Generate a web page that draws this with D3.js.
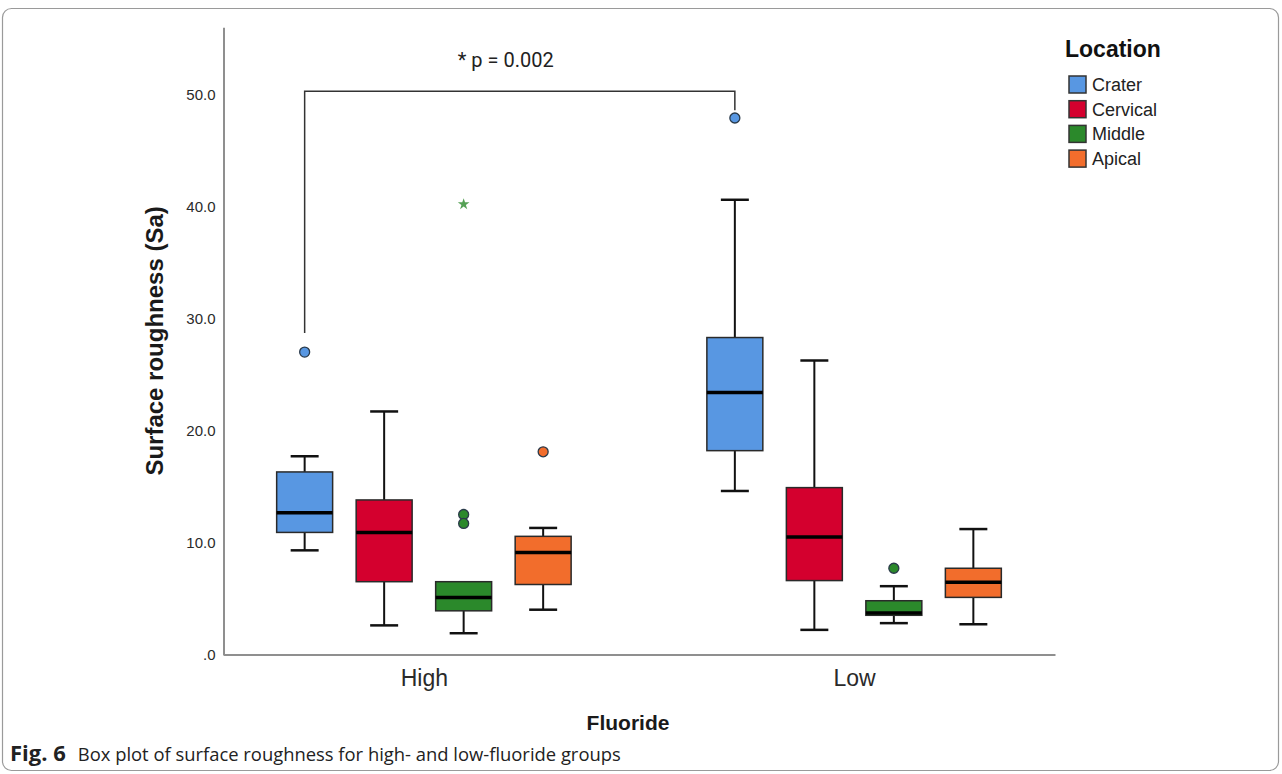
<!DOCTYPE html>
<html>
<head>
<meta charset="utf-8">
<script src="https://cdn.jsdelivr.net/npm/d3@7/dist/d3.min.js"></script>
<style>
    body { margin: 0; background: #fff; }
    text { font-family: "Liberation Sans", Arial, sans-serif; }
</style>
</head>
<body>
<script>
//fluoride groups and sample locations
var groups = ["High", "Low"];
var locations = ["Crater", "Cervical", "Middle", "Apical"];

//box statistics, one row per group, one value per location
var whiskerLow  = [[9.3, 2.6, 1.9, 4.0], [14.6, 2.2, 2.8, 2.7]];
var q1          = [[10.9, 6.5, 3.9, 6.25], [18.2, 6.6, 3.5, 5.1]];
var median      = [[12.65, 10.9, 5.1, 9.1], [23.4, 10.5, 3.7, 6.45]];
var q3          = [[16.3, 13.8, 6.5, 10.55], [28.3, 14.9, 4.8, 7.7]];
var whiskerHigh = [[17.7, 21.7, 6.5, 11.3], [40.6, 26.25, 6.1, 11.2]];

//outliers (circles) and extremes (stars)
var outliers = [
    {group: "High", location: "Crater", value: 27.0},
    {group: "High", location: "Middle", value: 12.5},
    {group: "High", location: "Middle", value: 11.7},
    {group: "High", location: "Apical", value: 18.1},
    {group: "Low", location: "Crater", value: 47.9},
    {group: "Low", location: "Middle", value: 7.7}
];
var extremes = [
    {group: "High", location: "Middle", value: 40.2}
];

//y axis ticks
var yTicks = [0, 10, 20, 30, 40, 50];

//significance bracket between High/Crater and Low/Crater
var bracket = {top: 50.3, leftEnd: 28.7, rightEnd: 48.6, label: "* p = 0.002"};

window.onload = function(){

    var w = 1282, h = 774;
    var svg = d3.select("body")
        .append("svg")
        .attr("width", w)
        .attr("height", h);

    //rounded figure frame
    svg.append("rect")
        .attr("x", 2.5)
        .attr("y", 8.5)
        .attr("width", 1276)
        .attr("height", 762)
        .attr("rx", 9)
        .style("fill", "none")
        .style("stroke", "#9a9a9a")
        .style("stroke-width", 1.2);

    var color = d3.scaleOrdinal()
        .domain(locations)
        .range(["#5897e2", "#d4002e", "#2b892b", "#f26d2c"]);

    //scales
    var y = d3.scaleLinear()
        .domain([0, 56])
        .range([654.5, 27.3]);

    var x = d3.scalePoint()
        .domain(groups)
        .range([223, 1055])
        .padding(0.467);

    var inner = d3.scaleBand()
        .domain(locations)
        .range([-159, 159])
        .paddingInner(0.296)
        .paddingOuter(0.148);

    var bw = inner.bandwidth();

    //axes
    var yAxis = d3.axisLeft(y)
        .tickValues(yTicks)
        .tickSize(0)
        .tickSizeOuter(0)
        .tickPadding(8)
        .tickFormat(function(d){ return d === 0 ? ".0" : d3.format(".1f")(d); });

    var yg = svg.append("g")
        .attr("class", "axis")
        .attr("transform", "translate(223.5,0)")
        .call(yAxis);
    yg.selectAll("text")
        .style("font-size", "15px")
        .style("fill", "#2a2a2a");

    var xAxis = d3.axisBottom(x)
        .tickSize(0)
        .tickSizeOuter(0)
        .tickPadding(15);

    var xg = svg.append("g")
        .attr("class", "axis")
        .attr("transform", "translate(0,654.5)")
        .call(xAxis);
    xg.selectAll("text")
        .style("font-size", "23px")
        .style("fill", "#2a2a2a");

    svg.selectAll(".axis path.domain")
        .style("stroke", "#8f8f8f")
        .style("stroke-width", 2);

    //axis titles
    svg.append("text")
        .attr("transform", "translate(163," + y(28) + ") rotate(-90)")
        .attr("text-anchor", "middle")
        .style("font-size", "24px")
        .style("font-weight", "bold")
        .style("fill", "#1a1a1a")
        .text("Surface roughness (Sa)");

    svg.append("text")
        .attr("x", 628)
        .attr("y", 730)
        .attr("text-anchor", "middle")
        .style("font-size", "21px")
        .style("font-weight", "bold")
        .style("fill", "#1a1a1a")
        .text("Fluoride");

    //flatten the box stats into one row per box
    var boxes = [];
    groups.forEach(function(g, gi){
        locations.forEach(function(loc, li){
            boxes.push({
                group: g, location: loc,
                lo: whiskerLow[gi][li], q1: q1[gi][li], med: median[gi][li],
                q3: q3[gi][li], hi: whiskerHigh[gi][li]
            });
        });
    });

    function cx(d){
        return x(d.group) + inner(d.location) + bw / 2;
    }

    var box = svg.selectAll(".box")
        .data(boxes)
        .enter()
        .append("g")
        .attr("class", "box");

    //whisker stems
    box.append("line")
        .attr("x1", cx).attr("x2", cx)
        .attr("y1", function(d){ return y(d.lo); })
        .attr("y2", function(d){ return y(d.q1); })
        .style("stroke", "#111").style("stroke-width", 2);
    box.append("line")
        .attr("x1", cx).attr("x2", cx)
        .attr("y1", function(d){ return y(d.q3); })
        .attr("y2", function(d){ return y(d.hi); })
        .style("stroke", "#111").style("stroke-width", 2);

    //whisker caps (none where the whisker has no length)
    box.filter(function(d){ return d.lo < d.q1; })
        .append("line")
        .attr("x1", function(d){ return cx(d) - bw / 4; })
        .attr("x2", function(d){ return cx(d) + bw / 4; })
        .attr("y1", function(d){ return y(d.lo); })
        .attr("y2", function(d){ return y(d.lo); })
        .style("stroke", "#111").style("stroke-width", 2.5);
    box.filter(function(d){ return d.hi > d.q3; })
        .append("line")
        .attr("x1", function(d){ return cx(d) - bw / 4; })
        .attr("x2", function(d){ return cx(d) + bw / 4; })
        .attr("y1", function(d){ return y(d.hi); })
        .attr("y2", function(d){ return y(d.hi); })
        .style("stroke", "#111").style("stroke-width", 2.5);

    //the boxes
    box.append("rect")
        .attr("x", function(d){ return cx(d) - bw / 2; })
        .attr("y", function(d){ return y(d.q3); })
        .attr("width", bw)
        .attr("height", function(d){ return y(d.q1) - y(d.q3); })
        .style("fill", function(d){ return color(d.location); })
        .style("stroke", "#2a2a2a")
        .style("stroke-width", 1.5);

    //medians
    box.append("line")
        .attr("x1", function(d){ return cx(d) - bw / 2; })
        .attr("x2", function(d){ return cx(d) + bw / 2; })
        .attr("y1", function(d){ return y(d.med); })
        .attr("y2", function(d){ return y(d.med); })
        .style("stroke", "#000")
        .style("stroke-width", 3.5);

    //outlier circles
    svg.selectAll(".outlier")
        .data(outliers)
        .enter()
        .append("circle")
        .attr("class", "outlier")
        .attr("cx", cx)
        .attr("cy", function(d){ return y(d.value); })
        .attr("r", 5)
        .style("fill", function(d){ return color(d.location); })
        .style("stroke", "#2a3a4a")
        .style("stroke-width", 1.3);

    //extreme stars
    svg.selectAll(".extreme")
        .data(extremes)
        .enter()
        .append("path")
        .attr("class", "extreme")
        .attr("transform", function(d){ return "translate(" + cx(d) + "," + y(d.value) + ")"; })
        .attr("d", d3.symbol().type(d3.symbolStar).size(42))
        .style("fill", function(d){ return color(d.location); })
        .style("opacity", 0.8);

    //significance bracket
    var bx1 = x("High") + inner("Crater") + bw / 2;
    var bx2 = x("Low") + inner("Crater") + bw / 2;
    svg.append("path")
        .attr("d", "M" + bx1 + "," + y(bracket.leftEnd) +
                   "V" + y(bracket.top) +
                   "H" + bx2 +
                   "V" + y(bracket.rightEnd))
        .style("fill", "none")
        .style("stroke", "#333")
        .style("stroke-width", 1.5);

    svg.append("text")
        .attr("x", (bx1 + bx2) / 2 - 14)
        .attr("y", 67)
        .attr("text-anchor", "middle")
        .style("font-family", "Roboto, sans-serif")
        .style("font-size", "20px")
        .style("fill", "#222")
        .text(bracket.label);

    //legend
    var legend = svg.append("g")
        .attr("transform", "translate(1065,0)");

    legend.append("text")
        .attr("x", 0)
        .attr("y", 57)
        .style("font-size", "23px")
        .style("font-weight", "bold")
        .style("fill", "#111")
        .text("Location");

    var item = legend.selectAll(".item")
        .data(locations)
        .enter()
        .append("g")
        .attr("class", "item")
        .attr("transform", function(d, i){ return "translate(4," + (76 + i * 24.7) + ")"; });

    item.append("rect")
        .attr("width", 17)
        .attr("height", 17)
        .style("fill", function(d){ return color(d); })
        .style("stroke", "#333")
        .style("stroke-width", 1.5);

    item.append("text")
        .attr("x", 23)
        .attr("y", 15)
        .style("font-size", "18px")
        .style("fill", "#222")
        .text(function(d){ return d; });

    //caption
    var caption = svg.append("text")
        .attr("x", 10)
        .attr("y", 761)
        .style("font-family", "'Open Sans', sans-serif")
        .style("font-size", "18.4px")
        .style("fill", "#222");
    caption.append("tspan")
        .style("font-weight", "bold")
        .style("font-size", "22px")
        .text("Fig. 6");
    caption.append("tspan")
        .attr("dx", 12)
        .text("Box plot of surface roughness for high- and low-fluoride groups");
};
</script>
</body>
</html>
